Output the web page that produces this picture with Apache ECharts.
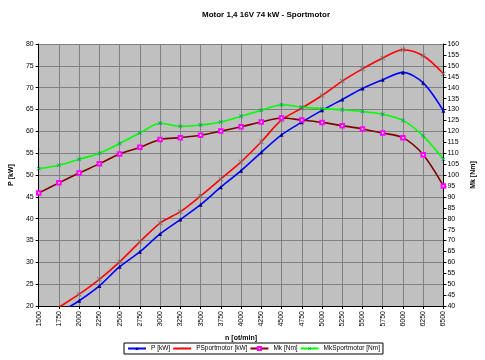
<!DOCTYPE html>
<html>
<head>
<meta charset="utf-8">
<script src="https://cdn.jsdelivr.net/npm/echarts@6/dist/echarts.min.js"></script>
<style>
html,body{margin:0;padding:0;background:#fff;}
#c{width:485px;height:360px;}
</style>
</head>
<body>
<div id="c"></div>
<script>
const categories = ['1500','1750','2000','2250','2500','2750','3000','3250','3500','3750','4000','4250','4500','4750','5000','5250','5500','5750','6000','6250','6500'];
const pKW = [15.6, 18.4, 21.2, 24.6, 29.0, 32.4, 36.5, 39.8, 43.2, 47.2, 51.0, 55.2, 59.2, 62.1, 64.8, 67.3, 69.8, 71.8, 73.5, 71.1, 64.7];
const pSportKW = [16.8, 19.7, 22.7, 26.1, 30.1, 34.7, 39.0, 41.6, 45.2, 49.1, 53.0, 57.6, 62.6, 65.3, 68.2, 71.5, 74.3, 76.8, 78.7, 77.3, 73.2];
const mkNm = [91.7, 96.4, 100.9, 105.1, 109.6, 112.7, 116.3, 117.1, 118.2, 120.1, 122.1, 124.3, 126.1, 125.2, 124.1, 122.6, 121.1, 119.2, 117.1, 109.3, 95.0];
const mkSportNm = [102.9, 104.5, 107.2, 110.0, 114.4, 119.2, 123.7, 122.3, 122.9, 124.3, 126.9, 129.6, 132.2, 131.1, 130.4, 129.9, 129.1, 127.8, 125.0, 117.9, 107.2];

const FONT = 'Liberation Sans';
const xSym = 'path://M0,1L1,0L5,4L9,0L10,1L6,5L10,9L9,10L5,6L1,10L0,9L4,5Z';

const chart = echarts.init(document.getElementById('c'), null, {renderer:'canvas'});
chart.setOption({
  backgroundColor: '#ffffff',
  animation: false,
  title: {
    text: 'Motor 1,4 16V 74 kW - Sportmotor',
    left: 261, top: 6, textAlign: 'center',
    textStyle: {fontFamily: FONT, fontSize: 8, fontWeight: 'bold', color: '#000'}
  },
  legend: {
    left: 124, top: 343, width: 400,
    itemGap: 2, itemWidth: 18, itemHeight: 4,
    padding: [2, 3, 2, 3],
    borderColor: '#000', borderWidth: 1, backgroundColor: '#fff',
    textStyle: {fontFamily: FONT, fontSize: 6.5, color: '#000'},
    data: ['P [kW]', 'PSportmotor [kW]', 'Mk [Nm]', 'MkSportmotor [Nm]']
  },
  grid: {left: 36, right: 33, top: 44, bottom: 54, show: true, backgroundColor: '#c0c0c0', borderWidth: 0},
  xAxis: {
    type: 'category', data: categories, boundaryGap: false,
    name: 'n [ot/min]', nameLocation: 'middle', nameGap: 24,
    nameTextStyle: {fontFamily: FONT, fontSize: 7, fontWeight: 'bold', color: '#000'},
    axisLine: {lineStyle: {color: '#000', width: 1}},
    axisTick: {show: true, length: 3, lineStyle: {color: '#000'}, alignWithLabel: true},
    axisLabel: {rotate: 90, fontFamily: FONT, fontSize: 7, color: '#000', margin: 5, interval: 0},
    splitLine: {show: true, lineStyle: {color: '#808080', width: 1}}
  },
  yAxis: [
    {
      type: 'value', min: 20, max: 80, interval: 5, position: 'left',
      name: 'P [kW]', nameLocation: 'middle', nameGap: 15, nameRotate: 90,
      nameTextStyle: {fontFamily: FONT, fontSize: 7, fontWeight: 'bold', color: '#000'},
      axisLine: {show: true, lineStyle: {color: '#000', width: 1}},
      axisTick: {show: true, length: 3, lineStyle: {color: '#000'}},
      axisLabel: {fontFamily: FONT, fontSize: 7, color: '#000', margin: 5},
      splitLine: {show: true, lineStyle: {color: '#808080', width: 1}}
    },
    {
      type: 'value', min: 40, max: 160, interval: 5, position: 'right',
      name: 'Mk [Nm]', nameLocation: 'middle', nameGap: 21, nameRotate: 90,
      nameTextStyle: {fontFamily: FONT, fontSize: 7, fontWeight: 'bold', color: '#000'},
      axisLine: {show: true, lineStyle: {color: '#000', width: 1}},
      axisTick: {show: true, length: 3, lineStyle: {color: '#000'}},
      axisLabel: {fontFamily: FONT, fontSize: 7, color: '#000', margin: 4},
      splitLine: {show: false}
    }
  ],
  series: [
    {
      name: 'P [kW]', type: 'line', yAxisIndex: 0, data: pKW, smooth: 0.3,
      symbol: 'triangle', symbolSize: 4,
      lineStyle: {color: '#0000ff', width: 1.6},
      itemStyle: {color: '#000080'}
    },
    {
      name: 'PSportmotor [kW]', type: 'line', yAxisIndex: 0, data: pSportKW, smooth: 0.3,
      symbol: xSym, symbolSize: 5,
      lineStyle: {color: '#ff0000', width: 1.6},
      itemStyle: {color: '#707070'}
    },
    {
      name: 'Mk [Nm]', type: 'line', yAxisIndex: 1, data: mkNm, smooth: 0.3,
      symbol: 'emptyRect', symbolSize: 3.5,
      lineStyle: {color: '#800000', width: 1.6},
      itemStyle: {color: '#ff00ff', borderColor: '#ff00ff', borderWidth: 1.2}
    },
    {
      name: 'MkSportmotor [Nm]', type: 'line', yAxisIndex: 1, data: mkSportNm, smooth: 0.3,
      symbol: xSym, symbolSize: 4,
      lineStyle: {color: '#00ff00', width: 1.6},
      itemStyle: {color: '#008080'}
    }
  ]
});
</script>
</body>
</html>
